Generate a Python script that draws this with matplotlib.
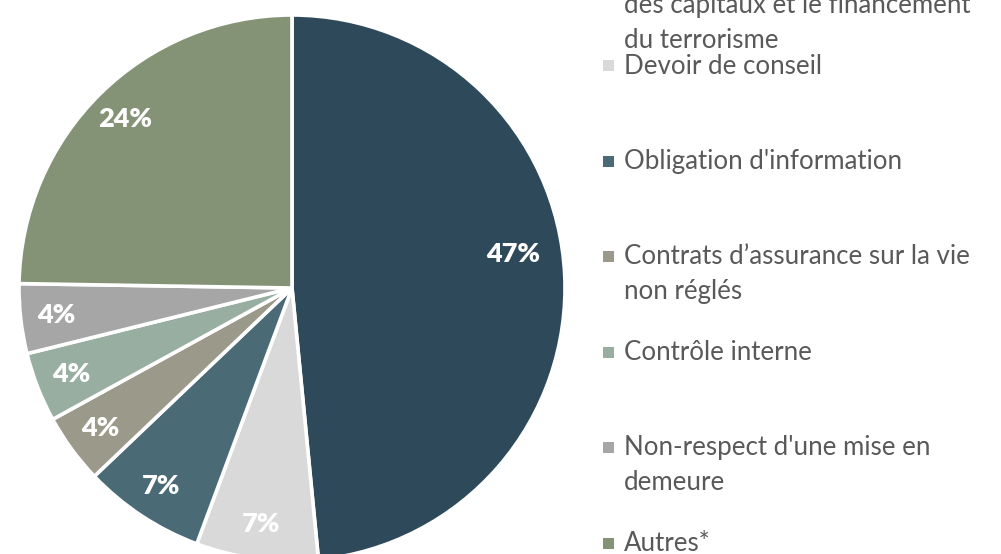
import numpy as np
import matplotlib.pyplot as plt
from matplotlib.patches import Rectangle

plt.rcParams['font.family'] = ['Lato', 'DejaVu Sans']

# données
categories = [
    "Lutte contre le blanchiment\ndes capitaux et le financement\ndu terrorisme",
    "Devoir de conseil",
    "Obligation d'information",
    "Contrats d\u2019assurance sur la vie\nnon réglés",
    "Contrôle interne",
    "Non-respect d'une mise en\ndemeure",
    "Autres*",
]
values = [47, 7, 7, 4, 4, 4, 24]
colors = ['#2E4A5A', '#D9D9D9', '#4A6A75', '#9B998A', '#97AEA0', '#A6A6A6', '#849276']

W, H = 1001, 554
fig = plt.figure(figsize=(W / 100, H / 100), dpi=100)

# axe du camembert : centre (292, 288) px, rayon 273 px
cx, cy, r = 292, 288, 273
ax = fig.add_axes([(cx - r) / W, (H - cy - r) / H, 2 * r / W, 2 * r / H])
wedges, _ = ax.pie(values, colors=colors, startangle=90, counterclock=False,
                   wedgeprops=dict(edgecolor='white', linewidth=2.6))
ax.set_xlim(-1, 1)
ax.set_ylim(-1, 1)
ax.axis('off')

# étiquettes de pourcentage
for i, (w, v) in enumerate(zip(wedges, values)):
    ang = np.deg2rad((w.theta1 + w.theta2) / 2)
    dist = 0.87
    if i == 0:
        ang += np.deg2rad(6)
        dist = 0.82
    ax.text(dist * np.cos(ang), dist * np.sin(ang), f"{v}%", ha='center', va='center',
            color='white', fontsize=19.5, fontweight='heavy')

# légende manuelle (le haut est coupé comme dans l'original)
y0, step, line_h = -29.4, 95.4, 35
for i, (lab, col) in enumerate(zip(categories, colors)):
    ym = y0 + i * step
    fig.patches.append(Rectangle((603 / W, (H - ym - 5.5) / H), 11 / W, 11 / H,
                                 transform=fig.transFigure, facecolor=col, edgecolor='none'))
    for j, line in enumerate(lab.split('\n')):
        yb = ym + 7.5 + j * line_h
        fig.text(624 / W, (H - yb) / H, line, ha='left', va='baseline',
                 color='#595959', fontsize=18.6)

fig.savefig('out.png', dpi=100)
